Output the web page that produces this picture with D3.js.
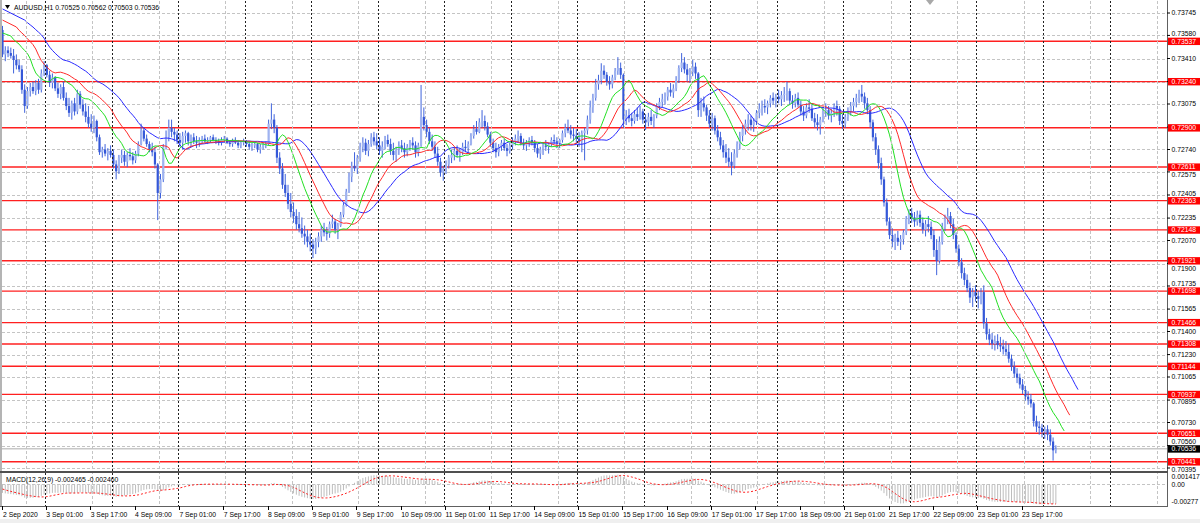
<!DOCTYPE html>
<html><head><meta charset="utf-8">
<script src="https://cdn.jsdelivr.net/npm/d3@7"></script>
<style>
html,body{margin:0;padding:0;background:#fff;overflow:hidden;}
svg{display:block;font-family:"Liberation Sans",Arial,sans-serif;}
</style></head><body>
<svg id="c" width="1200" height="523"></svg>
<script>
// ---------------- DATA (prices in 1e-5 above 0.70000) ----------------
const titleText = "AUDUSD,H1  0.70525 0.70562 0.70503 0.70536";
const macdTitle = "MACD(12,26,9) -0.002465 -0.002460";
const firstOpen = 3620;
const closes = [
3440,3470,3450,3430,3400,3360,3330,3180,3060,3170,3200,3170,3230,3180,3300,3360,
3290,3230,3270,3190,3150,3200,3120,3060,3010,3080,3020,3150,3070,3020,2980,2930,
2900,2950,2830,2720,2740,2710,2730,2700,2630,2580,2680,2700,2650,2700,2690,2660,
2710,2780,2880,2820,2780,2740,2720,2630,2420,2520,2760,2830,2900,2870,2850,2810,
2790,2840,2860,2800,2830,2800,2790,2810,2820,2800,2810,2830,2810,2800,2790,2810,
2820,2790,2780,2800,2790,2770,2790,2800,2780,2760,2770,2780,2740,2760,2770,2780,
2930,2960,2900,2680,2600,2480,2420,2340,2280,2250,2190,2160,2120,2100,2060,2040,
2010,2060,2100,2150,2130,2120,2190,2210,2150,2180,2260,2330,2430,2540,2620,2600,
2680,2760,2790,2730,2780,2830,2800,2770,2730,2760,2810,2780,2730,2700,2740,2770,
2750,2720,2760,2790,2770,2720,2770,2980,2920,2870,2800,2760,2710,2650,2570,2600,
2630,2680,2700,2730,2700,2720,2760,2750,2780,2840,2890,2870,2940,2950,2910,2850,
2790,2750,2720,2760,2790,2750,2730,2770,2800,2820,2840,2790,2770,2790,2810,2790,
2750,2710,2740,2770,2760,2780,2810,2800,2790,2810,2860,2900,2880,2850,2840,2820,
2800,2860,2880,2960,3050,3120,3220,3250,3320,3290,3240,3220,3270,3320,3340,3290,
2960,2990,2970,2950,3000,2980,3020,2960,2940,2980,2950,2990,3060,3090,3110,3130,
3180,3160,3190,3250,3340,3380,3330,3290,3310,3350,3300,3030,3080,3050,2990,2930,
2970,2880,2830,2770,2720,2680,2650,2620,2710,2780,2840,2890,2930,2960,2920,2950,
3010,3040,3060,3050,3080,3120,3100,3130,3110,3140,3150,3170,3100,3080,3120,3070,
3020,2990,3050,3040,2970,2940,2920,2960,3020,3030,2990,3010,3060,3040,2950,2930,
2980,3020,3060,3090,3120,3150,3130,3080,3030,2940,2830,2740,2640,2520,2350,2210,
2110,2060,2090,2060,2080,2130,2230,2270,2240,2210,2260,2200,2150,2190,2170,2110,
2000,1920,2060,2170,2230,2250,2190,2110,2010,1910,1830,1780,1720,1650,1690,1660,
1640,1690,1460,1380,1340,1310,1330,1300,1290,1270,1250,1200,1140,1090,1060,1010,
970,920,900,870,740,700,690,660,680,640,590,525,536];
const highs = [
3650,3500,3500,3490,3480,3440,3400,3360,3220,3200,3230,3240,3250,3260,3330,3390,
3370,3320,3300,3280,3230,3220,3240,3160,3120,3100,3120,3180,3170,3110,3080,3060,
3000,2990,2960,2850,2760,2780,2750,2770,2740,2660,2700,2740,2730,2720,2750,2720,
2730,2800,2930,2900,2850,2800,2790,2760,2640,2560,2780,2880,2960,2960,2900,2880,
2860,2870,2880,2870,2850,2860,2840,2830,2840,2850,2830,2840,2850,2830,2820,2830,
2840,2830,2810,2820,2830,2810,2800,2820,2810,2800,2790,2800,2790,2780,2790,2800,
2960,3080,3000,2920,2720,2640,2560,2480,2420,2350,2300,2280,2240,2180,2150,2120,
2080,2090,2130,2180,2200,2170,2210,2260,2230,2200,2280,2350,2450,2570,2650,2720,
2700,2790,2830,2820,2810,2860,2870,2860,2830,2800,2840,2850,2820,2790,2760,2800,
2810,2790,2780,2810,2830,2800,2790,3215,3050,2960,2900,2850,2800,2760,2680,2620,
2660,2700,2740,2760,2770,2750,2790,2810,2800,2860,2920,2950,2970,3030,2990,2940,
2870,2820,2790,2780,2810,2820,2780,2790,2830,2850,2880,2860,2820,2810,2830,2840,
2810,2780,2760,2790,2810,2790,2830,2850,2830,2820,2880,2930,2960,2920,2900,2890,
2870,2880,2900,2990,3100,3150,3260,3290,3375,3360,3310,3280,3290,3340,3420,3380,
3300,3030,3040,3010,3030,3050,3060,3040,3000,3010,3030,3000,3080,3120,3150,3160,
3200,3230,3220,3280,3360,3450,3420,3370,3340,3400,3380,3310,3120,3130,3070,3030,
3010,2990,2920,2870,2810,2780,2750,2720,2740,2800,2870,2920,2960,3000,2990,2970,
3030,3080,3100,3110,3100,3140,3160,3150,3180,3170,3200,3240,3190,3140,3150,3160,
3100,3060,3080,3110,3080,3010,3000,2980,3050,3080,3060,3040,3080,3100,3060,3000,
3000,3050,3090,3120,3150,3180,3215,3160,3120,3060,2960,2860,2770,2680,2540,2380,
2240,2160,2120,2140,2110,2150,2250,2300,2310,2280,2290,2290,2240,2220,2250,2210,
2150,2080,2100,2200,2260,2310,2280,2230,2130,2040,1940,1870,1820,1760,1720,1740,
1700,1720,1740,1500,1420,1390,1370,1380,1360,1340,1330,1310,1230,1180,1130,1090,
1050,1000,960,940,880,780,740,720,700,710,680,620,562];
const lows = [
3420,3390,3420,3410,3300,3330,3310,3150,3010,3040,3130,3150,3140,3150,3160,3280,
3270,3200,3190,3170,3120,3110,3100,3030,2980,2960,2990,3000,3040,2990,2940,2900,
2870,2860,2800,2700,2680,2690,2660,2680,2600,2520,2560,2640,2620,2610,2660,2630,
2640,2690,2770,2800,2760,2720,2690,2600,2220,2380,2500,2740,2800,2830,2800,2780,
2760,2740,2790,2770,2760,2780,2750,2760,2780,2790,2780,2790,2800,2780,2770,2770,
2790,2780,2760,2760,2780,2750,2750,2770,2760,2740,2730,2750,2720,2710,2740,2750,
2770,2890,2860,2640,2560,2450,2390,2300,2240,2200,2150,2130,2090,2040,2020,1990,
1940,1970,2020,2060,2100,2070,2090,2160,2120,2080,2170,2240,2320,2420,2500,2580,
2560,2650,2720,2700,2690,2760,2770,2740,2700,2680,2740,2760,2700,2660,2650,2700,
2720,2680,2690,2730,2740,2680,2690,2760,2880,2830,2780,2730,2680,2620,2540,2510,
2560,2600,2640,2660,2680,2650,2700,2720,2710,2770,2820,2850,2860,2900,2880,2830,
2760,2720,2680,2690,2730,2730,2690,2710,2740,2770,2790,2770,2740,2730,2760,2770,
2720,2680,2670,2700,2730,2710,2760,2780,2750,2750,2790,2830,2860,2820,2800,2780,
2760,2720,2660,2850,2930,3010,3100,3180,3220,3260,3210,3180,3190,3250,3290,3260,
2900,2920,2940,2910,2930,2950,2960,2930,2884,2910,2920,2900,2970,3030,3050,3070,
3100,3130,3120,3170,3230,3310,3300,3240,3230,3280,3260,2980,2980,3020,2950,2900,
2880,2850,2800,2740,2680,2640,2610,2550,2600,2680,2740,2800,2850,2880,2880,2870,
2920,2970,2990,3010,3000,3050,3070,3050,3080,3060,3090,3100,3070,3040,3050,3050,
2990,2950,2970,3010,2950,2900,2880,2850,2940,2980,2960,2940,2980,2990,2920,2890,
2900,2950,2990,3020,3050,3080,3090,3040,3000,2900,2800,2700,2600,2480,2320,2180,
2080,2020,2000,2030,2000,2040,2110,2190,2200,2170,2180,2170,2120,2100,2130,2080,
1950,1815,1900,2040,2140,2190,2160,2080,1980,1880,1790,1740,1690,1610,1580,1620,
1570,1600,1420,1340,1300,1270,1260,1270,1250,1230,1220,1170,1110,1060,1020,980,
940,890,860,840,700,660,640,620,610,600,560,450,503];

// Alligator state at the left edge
const jawStart = [0.73775, 0.73693];    // value drawn at bar 0, SMMA seed shown at bar 8
const teethStart = [0.73693, 0.73642];  // bar 0, seed shown at bar 5
const lipsStart = [0.73598, 0.73576];   // bar 0, seed shown at bar 3
// MACD state before the first bar (estimated)
const emaPrior = [0.73700, 0.73800];
const macdPrior = [-0.0002,-0.0003,-0.0004,-0.0005,-0.0006,-0.0007,-0.0008,-0.0009];

const priceTicks = [0.73745,0.73580,0.73410,0.73240,0.73075,0.72905,0.72740,0.72575,0.72405,0.72235,0.72070,0.71900,0.71735,0.71565,0.71400,0.71230,0.71065,0.70895,0.70730,0.70560,0.70395];
const priceTickLabels = ["0.73745","0.73580","0.73410","0.73240","0.73075","0.72905","0.72740","0.72575","0.72405","0.72235","0.72070","0.71900","0.71735","0.71565","0.71400","0.71230","0.71065","0.70895","0.70730","0.70560","0.70395"];
const levels = [0.73537,0.73240,0.72900,0.72611,0.72363,0.72148,0.71921,0.71698,0.71466,0.71308,0.71144,0.70937,0.70651,0.70441];
const levelLabels = ["0.73537","0.73240","0.72900","0.72611","0.72363","0.72148","0.71921","0.71698","0.71466","0.71308","0.71144","0.70937","0.70651","0.70441"];
const currentPrice = 0.70536, currentLabel = "0.70536";
const timeLabels = ["2 Sep 2020","3 Sep 01:00","3 Sep 17:00","4 Sep 09:00","7 Sep 01:00","7 Sep 17:00","8 Sep 09:00","9 Sep 01:00","9 Sep 17:00","10 Sep 09:00","11 Sep 01:00","11 Sep 17:00","14 Sep 09:00","15 Sep 01:00","15 Sep 17:00","16 Sep 09:00","17 Sep 01:00","17 Sep 17:00","18 Sep 09:00","21 Sep 01:00","21 Sep 17:00","22 Sep 09:00","23 Sep 01:00","23 Sep 17:00"];
const timeLabelBars = timeLabels.map((d,k)=>16*k);
const daySepBars = [15,39,63,87,111,135,159,183,207,231,255,279,303,327,351,375,399];
const gridBars = [8,32,56,80,104,128,152,176,200,224,248,272,296,320,344,368,392,416];
const macdAxis = [0.001417, 0, -0.00277];
const macdAxisLabels = ["0.001417","0.00","-0.00277"];

// ---------------- DRAW ----------------
const svg = d3.select("#c");
const PR = v => 0.7 + v/1e5;
const bars = closes.map((c,i)=>{
  const o = i===0 ? firstOpen : closes[i-1];
  return {i, o:PR(o), c:PR(c), h:PR(Math.max(highs[i],o,c)), l:PR(Math.min(lows[i],o,c))};
});
const R = 1167, FS = 6.8;
const x = d3.scaleLinear().domain([0,380]).range([2.5, 2.5+2.772*380]);
const y = d3.scaleLinear().domain([0.70395,0.73745]).range([468,13]);
const ym = d3.scaleLinear().domain([-0.00277,0.001417]).range([505,474]);

svg.append("rect").attr("width",1200).attr("height",523).attr("fill","#fff");
const defs = svg.append("defs");
defs.append("clipPath").attr("id","cm").append("rect").attr("x",2).attr("y",1).attr("width",R-2).attr("height",470);
defs.append("clipPath").attr("id","cd").append("rect").attr("x",2).attr("y",473).attr("width",R-2).attr("height",33);

const main = svg.append("g").attr("clip-path","url(#cm)");
const sub = svg.append("g").attr("clip-path","url(#cd)");

// horizontal grid
main.selectAll("line.hg").data(priceTicks).join("line")
  .attr("x1",2).attr("x2",R).attr("y1",d=>Math.round(y(d))+0.5).attr("y2",d=>Math.round(y(d))+0.5)
  .attr("stroke","#c4c4c4").attr("stroke-dasharray","3,2");
// vertical grid (gray) and day separators (dark)
svg.selectAll("line.vg").data(gridBars).join("line")
  .attr("x1",d=>Math.round(x(d)+1)+0.5).attr("x2",d=>Math.round(x(d)+1)+0.5).attr("y1",1).attr("y2",506)
  .attr("stroke","#c4c4c4").attr("stroke-dasharray","3,2");
svg.selectAll("line.ds").data(daySepBars).join("line")
  .attr("x1",d=>Math.round(x(d)+1)+0.5).attr("x2",d=>Math.round(x(d)+1)+0.5).attr("y1",1).attr("y2",506)
  .attr("stroke","#222").attr("stroke-dasharray","2,2");

// levels
main.selectAll("line.lv").data(levels).join("line")
  .attr("x1",2).attr("x2",R).attr("y1",d=>y(d)).attr("y2",d=>y(d))
  .attr("stroke","#ff2020").attr("stroke-width",1.3);
// current price line
main.append("line").attr("x1",2).attr("x2",R).attr("y1",y(currentPrice)).attr("y2",y(currentPrice))
  .attr("stroke","#c8c8c8").attr("stroke-width",1.5);

// candles
const cg = main.append("g");
cg.selectAll("line.w").data(bars).join("line")
  .attr("x1",d=>x(d.i)).attr("x2",d=>x(d.i)).attr("y1",d=>y(d.h)).attr("y2",d=>y(d.l))
  .attr("stroke","#3f63dc").attr("stroke-width",1);
cg.selectAll("rect.b").data(bars).join("rect")
  .attr("x",d=>x(d.i)-1.1).attr("width",2.2)
  .attr("y",d=>y(Math.max(d.o,d.c))).attr("height",d=>Math.max(1,Math.abs(y(d.o)-y(d.c))))
  .attr("fill",d=>d.c>=d.o?"#9fb3f0":"#3558d8");

// alligator
const med = bars.map(b=>(b.h+b.l)/2);
function smma(src,n,seed){ const out=[seed]; let s=seed; for(let i=1;i<src.length;i++){ s=(s*(n-1)+src[i])/n; out.push(s);} return out; }
function drawLine(vals, shift, start, color){
  const pts=[[0,start]].concat(vals.map((v,i)=>[i+shift,v]));
  main.append("path").attr("d",d3.line().x(d=>x(d[0])).y(d=>y(d[1]))(pts))
    .attr("fill","none").attr("stroke",color).attr("stroke-width",1);
}
drawLine(smma(med,13,jawStart[1]),8,jawStart[0],"#2a2aff");
drawLine(smma(med,8,teethStart[1]),5,teethStart[0],"#ff2a2a");
drawLine(smma(med,5,lipsStart[1]),3,lipsStart[0],"#22e022");

// MACD
function ema(src,n,prior){ const k=2/(n+1); let e=prior; return src.map(v=>(e=e+k*(v-e))); }
const cl = bars.map(b=>b.c);
const e12 = ema(cl,12,emaPrior[0]), e26 = ema(cl,26,emaPrior[1]);
const macd = e12.map((v,i)=>v-e26[i]);
const ext = macdPrior.concat(macd);
const signal = macd.map((v,i)=>d3.mean(ext.slice(i, i+9)));
sub.append("line").attr("x1",2).attr("x2",R).attr("y1",Math.round(ym(0))+0.5).attr("y2",Math.round(ym(0))+0.5)
  .attr("stroke","#c4c4c4").attr("stroke-dasharray","3,2");
sub.selectAll("line.h").data(macd).join("line")
  .attr("x1",(d,i)=>x(i)).attr("x2",(d,i)=>x(i)).attr("y1",ym(0)).attr("y2",d=>ym(d))
  .attr("stroke","#bdbdbd").attr("stroke-width",1);
sub.append("path").attr("d",d3.line().x((d,i)=>x(i)).y(d=>ym(d))(signal))
  .attr("fill","none").attr("stroke","#ff2020").attr("stroke-width",1).attr("stroke-dasharray","2,2");

// frames
svg.append("rect").attr("x",0).attr("y",0).attr("width",2).attr("height",506).attr("fill","#b4b4b4");
svg.append("line").attr("x1",R+0.5).attr("x2",R+0.5).attr("y1",0).attr("y2",506.5).attr("stroke","#606060");
svg.append("line").attr("x1",0).attr("x2",R+1).attr("y1",472).attr("y2",472).attr("stroke","#505050").attr("stroke-width",2);
svg.append("line").attr("x1",0).attr("x2",R+1).attr("y1",506.5).attr("y2",506.5).attr("stroke","#606060");
svg.append("rect").attr("x",0).attr("y",519).attr("width",1200).attr("height",4).attr("fill","#efefef");
svg.append("path").attr("d","M926,0 L934,0 L930,5 Z").attr("fill","#a8a8a8");

// title
svg.append("path").attr("d","M5,5 L10,5 L7.5,9 Z").attr("fill","#000");
svg.append("text").attr("x",14).attr("y",9.8).attr("font-size",FS).attr("fill","#000").text(titleText);
svg.append("text").attr("x",6).attr("y",482).attr("font-size",FS).attr("fill","#000").text(macdTitle);

// price axis: tick labels hidden behind a marker box are skipped, close ones nudged clear of it
const boxYs = levels.map(v=>y(v)).concat([y(currentPrice)]);
const tickPos = priceTicks.map(v=>{
  let yy = y(v);
  let hidden = false;
  boxYs.forEach(by=>{
    const dy = yy - by;
    if (Math.abs(dy) < 1.5) hidden = true;
    else if (Math.abs(dy) < 7.5) yy = by + Math.sign(dy)*7.5;
  });
  return {v, yy, hidden};
});
const ax = svg.append("g");
ax.selectAll("line.t").data(priceTicks).join("line")
  .attr("x1",R).attr("x2",R+3).attr("y1",d=>y(d)).attr("y2",d=>y(d)).attr("stroke","#000");
ax.selectAll("text.t").data(tickPos.map((d,i)=>({...d, label:priceTickLabels[i]})).filter(d=>!d.hidden)).join("text")
  .attr("x",R+4.5).attr("y",d=>d.yy+2.4).attr("font-size",FS).attr("fill","#000")
  .text(d=>d.label);
ax.selectAll("rect.l").data(levels).join("rect")
  .attr("x",R+1).attr("y",d=>y(d)-3.6).attr("width",32).attr("height",7.4).attr("fill","#ff0000");
ax.selectAll("text.l").data(levels).join("text")
  .attr("x",R+4.5).attr("y",d=>y(d)+2.4).attr("font-size",FS).attr("fill","#fff")
  .text((d,i)=>levelLabels[i]);
ax.append("rect").attr("x",R+1).attr("y",y(currentPrice)-3.6).attr("width",32).attr("height",7.4).attr("fill","#000");
ax.append("text").attr("x",R+4.5).attr("y",y(currentPrice)+2.4).attr("font-size",FS).attr("fill","#fff").text(currentLabel);

// macd axis
const mpos = [479, ym(0)+2.4, 503.5];
ax.selectAll("text.m").data(macdAxis).join("text")
  .attr("x",R+4.5).attr("y",(d,i)=>mpos[i]).attr("font-size",FS).attr("fill","#000")
  .text((d,i)=>macdAxisLabels[i]);

// time axis
svg.selectAll("line.tt").data(timeLabelBars).join("line")
  .attr("x1",d=>Math.round(x(d)-1)+0.5).attr("x2",d=>Math.round(x(d)-1)+0.5).attr("y1",506).attr("y2",510).attr("stroke","#000");
svg.selectAll("text.tl").data(timeLabels).join("text")
  .attr("x",(d,k)=>Math.max(3, x(timeLabelBars[k])-0.5)).attr("y",516.5).attr("font-size",FS).attr("fill","#000")
  .text(d=>d);
</script>
</body></html>
